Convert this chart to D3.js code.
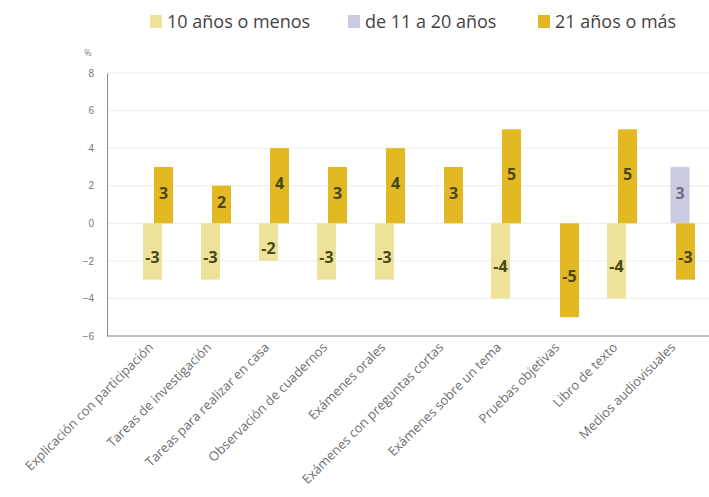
<!DOCTYPE html>
<html>
<head>
<meta charset="utf-8">
<script src="https://cdn.jsdelivr.net/npm/d3@7"></script>
<style>
  body { margin: 0; background: #fff; }
  svg { display: block; font-family: "Open Sans", sans-serif; }
</style>
</head>
<body>
<div class="visualisation"></div>
<script>
const wdth = 709;
const hght = 497;

// categories (x axis) and series
const categories = [
  "Explicación con participación",
  "Tareas de investigación",
  "Tareas para realizar en casa",
  "Observación de cuadernos",
  "Exámenes orales",
  "Exámenes con preguntas cortas",
  "Exámenes sobre un tema",
  "Pruebas objetivas",
  "Libro de texto",
  "Medios audiovisuales"
];
const series = ["10 años o menos", "de 11 a 20 años", "21 años o más"];

// values per series, null = no bar
const menos10 = [-3, -3, -2, -3, -3, null, -4, null, -4, null];
const de11a20 = [null, null, null, null, null, null, null, null, null, 3];
const mas21   = [3, 2, 4, 3, 4, 3, 5, -5, 5, -3];

const yTicks = [8, 6, 4, 2, 0, -2, -4, -6];

const colors = ["#eee29a", "#c9cce0", "#e2b823"];
const labelColors = ["#4a4716", "#686e80", "#4a4716"];

const values = [menos10, de11a20, mas21];
const bars = [];
values.forEach((arr, s) => {
  arr.forEach((v, i) => {
    if (v !== null) bars.push({cat: categories[i], s: s, value: v});
  });
});

const plotL = 107, plotR = 709, plotT = 73, plotB = 336;

const svg = d3.select(".visualisation")
  .append("svg")
  .attr("width", wdth)
  .attr("height", hght);

const x = d3.scalePoint()
  .domain(categories)
  .range([158, 680]);

const xOff = d3.scalePoint()
  .domain(d3.range(series.length))
  .range([-5.5, 5.5]);

const y = d3.scaleLinear()
  .domain([-6, 8])
  .range([plotB, plotT]);

const barW = 19;

// grid lines
svg.append("g")
  .selectAll("line")
  .data(yTicks)
  .enter()
  .append("line")
  .attr("x1", plotL)
  .attr("x2", plotR)
  .attr("y1", d => y(d))
  .attr("y2", d => y(d))
  .attr("stroke", "#ececec")
  .attr("stroke-width", 1);

// y axis
const yAxis = svg.append("g")
  .attr("transform", `translate(${plotL},0)`)
  .call(d3.axisLeft(y).tickValues(yTicks).tickSize(0).tickPadding(13));
yAxis.select(".domain").attr("stroke", "#8a8a8a");
yAxis.selectAll("text")
  .attr("fill", "#777")
  .style("font-size", "10px");

svg.append("text")
  .attr("x", 88)
  .attr("y", 56)
  .attr("text-anchor", "middle")
  .attr("fill", "#888")
  .style("font-size", "9px")
  .text("%");

// x axis line
svg.append("line")
  .attr("x1", plotL)
  .attr("x2", plotR)
  .attr("y1", plotB)
  .attr("y2", plotB)
  .attr("stroke", "#8a8a8a");

// category labels
svg.append("g")
  .selectAll("text")
  .data(categories)
  .enter()
  .append("text")
  .attr("transform", d => `translate(${x(d) - 7},${plotB + 9}) rotate(-45)`)
  .attr("text-anchor", "end")
  .attr("dy", "0.35em")
  .attr("fill", "#6e6e6e")
  .style("font-size", "13px")
  .text(d => d);

// bars
svg.append("g")
  .selectAll("rect")
  .data(bars)
  .enter()
  .append("rect")
  .attr("x", d => x(d.cat) + xOff(d.s) - barW / 2)
  .attr("width", barW)
  .attr("y", d => y(Math.max(0, d.value)))
  .attr("height", d => Math.abs(y(d.value) - y(0)))
  .attr("fill", d => colors[d.s]);

// value labels
svg.append("g")
  .selectAll("text")
  .data(bars)
  .enter()
  .append("text")
  .attr("x", d => x(d.cat) + xOff(d.s))
  .attr("y", d => y(d.value / 2) + (d.value < 0 ? 6 : -2))
  .attr("dy", "0.35em")
  .attr("text-anchor", "middle")
  .attr("fill", d => labelColors[d.s])
  .style("font-size", "16px")
  .style("font-weight", "bold")
  .text(d => d.value);

// legend
const legendX = [150, 348, 538];
const legend = svg.append("g");
series.forEach((name, i) => {
  legend.append("rect")
    .attr("x", legendX[i])
    .attr("y", 15)
    .attr("width", 12)
    .attr("height", 13)
    .attr("fill", colors[i]);
  legend.append("text")
    .attr("x", legendX[i] + 17)
    .attr("y", 28)
    .attr("fill", "#444")
    .style("font-size", "18px")
    .text(name);
});
</script>
</body>
</html>
